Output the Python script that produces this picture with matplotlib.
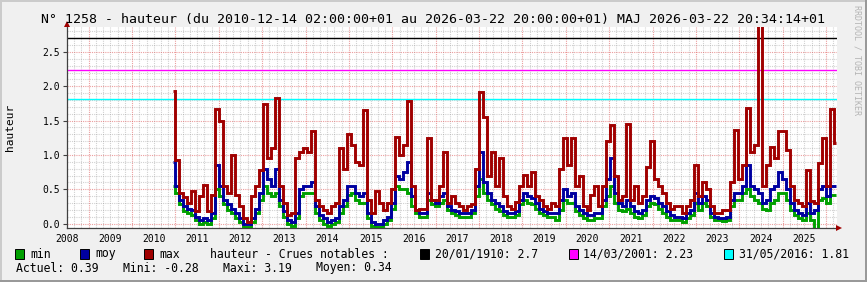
import numpy as np
import matplotlib
matplotlib.use("Agg")
import matplotlib.pyplot as plt
from matplotlib.patches import Rectangle, Polygon

plt.rcParams['font.family'] = ['DejaVu Sans Mono']

# ---------------- data ----------------
T0 = 2010.95          # first sample (2010-12-14)
STEP = 0.09206        # years between samples

max_vals = [
    1.93, 0.92, 0.45, 0.39, 0.30, 0.48, 0.18, 0.40, 0.56, 0.18, 0.42, 1.67, 1.50, 0.55, 0.45, 1.00,
    0.42, 0.25, 0.08, 0.02, 0.40, 0.55, 0.78, 1.74, 0.95, 1.10, 1.83, 0.55, 0.30, 0.12, 0.15, 0.95,
    1.05, 1.10, 1.05, 1.35, 0.35, 0.25, 0.20, 0.15, 0.25, 0.30, 1.10, 0.80, 1.30, 1.15, 0.90, 0.85,
    1.65, 0.35, 0.15, 0.48, 0.30, 0.20, 0.30, 0.50, 1.26, 1.00, 1.15, 1.79, 0.55, 0.20, 0.22, 0.22,
    1.25, 0.35, 0.35, 0.55, 1.05, 0.30, 0.40, 0.30, 0.25, 0.20, 0.25, 0.28, 0.80, 1.91, 1.55, 0.70,
    1.04, 0.55, 0.95, 0.40, 0.25, 0.22, 0.32, 0.55, 0.71, 0.55, 0.75, 0.40, 0.35, 0.25, 0.22, 0.30,
    0.25, 0.80, 1.25, 0.85, 1.25, 0.55, 0.70, 0.25, 0.20, 0.42, 0.55, 0.25, 0.55, 1.21, 1.43, 0.70,
    0.35, 0.40, 1.45, 0.35, 0.55, 0.30, 0.40, 0.83, 1.20, 0.65, 0.55, 0.45, 0.30, 0.22, 0.25, 0.25,
    0.15, 0.25, 0.35, 0.85, 0.40, 0.61, 0.50, 0.25, 0.15, 0.15, 0.20, 0.20, 0.60, 1.36, 0.65, 0.85,
    1.69, 1.05, 1.14, 3.19, 0.55, 0.85, 1.11, 0.95, 1.35, 1.35, 1.07, 0.55, 0.35, 0.30, 0.25, 0.78,
    0.33, 0.30, 0.88, 1.25, 0.55, 1.67, 1.17,
]
moy_vals = [
    0.90, 0.55, 0.35, 0.25, 0.22, 0.20, 0.10, 0.05, 0.08, 0.05, 0.15, 0.85, 0.55, 0.35, 0.28, 0.22,
    0.15, 0.08, 0.00, 0.00, 0.08, 0.22, 0.45, 0.80, 0.65, 0.55, 0.80, 0.35, 0.18, 0.05, 0.02, 0.15,
    0.50, 0.55, 0.55, 0.60, 0.25, 0.12, 0.08, 0.02, 0.05, 0.08, 0.25, 0.35, 0.55, 0.55, 0.45, 0.40,
    0.45, 0.15, 0.02, 0.00, 0.00, 0.05, 0.10, 0.30, 0.70, 0.65, 0.75, 0.90, 0.40, 0.20, 0.15, 0.15,
    0.45, 0.35, 0.30, 0.40, 0.45, 0.25, 0.20, 0.18, 0.15, 0.15, 0.15, 0.20, 0.55, 1.05, 0.60, 0.45,
    0.35, 0.30, 0.25, 0.18, 0.15, 0.15, 0.18, 0.35, 0.45, 0.40, 0.38, 0.30, 0.22, 0.18, 0.15, 0.15,
    0.15, 0.35, 0.50, 0.40, 0.45, 0.25, 0.20, 0.15, 0.12, 0.12, 0.15, 0.15, 0.35, 0.65, 0.95, 0.45,
    0.30, 0.25, 0.35, 0.25, 0.18, 0.15, 0.20, 0.35, 0.40, 0.38, 0.30, 0.25, 0.18, 0.12, 0.10, 0.10,
    0.08, 0.15, 0.20, 0.45, 0.30, 0.40, 0.35, 0.15, 0.10, 0.08, 0.08, 0.10, 0.35, 0.45, 0.45, 0.55,
    0.85, 0.55, 0.50, 0.45, 0.30, 0.35, 0.50, 0.55, 0.75, 0.65, 0.50, 0.30, 0.20, 0.15, 0.12, 0.30,
    0.15, 0.20, 0.50, 0.55, 0.40, 0.55, 0.55,
]
min_vals = [
    0.55, 0.45, 0.28, 0.18, 0.15, 0.12, 0.05, 0.00, 0.02, 0.00, 0.08, 0.50, 0.40, 0.28, 0.20, 0.15,
    0.08, 0.02, -0.05, -0.05, 0.02, 0.15, 0.35, 0.55, 0.45, 0.40, 0.45, 0.25, 0.10, 0.00, -0.03, 0.08,
    0.40, 0.45, 0.45, 0.45, 0.15, 0.05, 0.00, -0.03, 0.00, 0.02, 0.15, 0.25, 0.42, 0.45, 0.35, 0.30,
    0.30, 0.08, -0.04, -0.05, -0.05, 0.00, 0.05, 0.22, 0.55, 0.50, 0.50, 0.45, 0.25, 0.15, 0.10, 0.10,
    0.35, 0.28, 0.25, 0.30, 0.35, 0.20, 0.15, 0.12, 0.10, 0.10, 0.10, 0.15, 0.40, 0.65, 0.45, 0.35,
    0.28, 0.22, 0.18, 0.12, 0.10, 0.10, 0.12, 0.28, 0.35, 0.30, 0.28, 0.22, 0.15, 0.12, 0.10, 0.10,
    0.05, 0.20, 0.35, 0.30, 0.30, 0.18, 0.12, 0.08, 0.05, 0.05, 0.08, 0.08, 0.25, 0.40, 0.55, 0.30,
    0.20, 0.18, 0.22, 0.15, 0.10, 0.08, 0.12, 0.25, 0.30, 0.28, 0.22, 0.15, 0.10, 0.06, 0.05, 0.05,
    0.02, 0.08, 0.12, 0.30, 0.20, 0.30, 0.25, 0.10, 0.05, 0.05, 0.04, 0.05, 0.25, 0.35, 0.35, 0.45,
    0.50, 0.40, 0.35, 0.30, 0.22, 0.20, 0.30, 0.35, 0.45, 0.45, 0.35, 0.20, 0.12, 0.08, 0.05, 0.15,
    0.05, -0.28, 0.35, 0.38, 0.30, 0.42, 0.42,
]

year_labels = list(range(2008, 2026))
y_ticks = [0.0, 0.5, 1.0, 1.5, 2.0, 2.5]

crue_dates = ["20/01/1910", "14/03/2001", "31/05/2016"]
crue_values = [2.7, 2.23, 1.81]
crue_colors = ["#000000", "#FF00FF", "#00FFFF"]

series_names = ["min", "moy", "max"]
series_colors = ["#00A000", "#0000A0", "#A00000"]

stats_labels = ["Actuel", "Mini", "Maxi", "Moyen"]
stats_values = [0.39, -0.28, 3.19, 0.34]

title = ("N\u00b0 1258 - hauteur (du 2010-12-14 02:00:00+01 au 2026-03-22 20:00:00+01) "
         "MAJ 2026-03-22 20:34:14+01")

# ---------------- figure ----------------
W, H = 867, 282
fig = plt.figure(figsize=(W / 100, H / 100), dpi=100, facecolor='#F0F0F0')

def fx(px):
    return px / W

def fy(py):
    return 1 - py / H

X0, X1, YT, YB = 67, 837, 27, 228
ax = fig.add_axes([fx(X0), fy(YB), (X1 - X0) / W, (YB - YT) / H])
ax.set_facecolor('white')
XMIN, XMAX = 2008.533, 2026.254
YMIN, YMAX = -0.063, 2.863
ax.set_xlim(XMIN, XMAX)
ax.set_ylim(YMIN, YMAX)

# grid
dash = (0, (1, 1))
for k in np.arange(np.ceil(XMIN * 6), XMAX * 6):
    xv = k / 6
    if abs(xv - round(xv)) < 1e-6:
        ax.axvline(xv, color='#DE5151', alpha=0.55, lw=0.8, ls=dash, zorder=1)
    else:
        ax.axvline(xv, color='#8F8F8F', alpha=0.4, lw=0.8, ls=dash, zorder=0.9)
for k in range(0, 29):
    yv = k / 10
    if k % 5 == 0:
        ax.axhline(yv, color='#DE5151', alpha=0.55, lw=0.8, ls=dash, zorder=1)
    else:
        ax.axhline(yv, color='#8F8F8F', alpha=0.4, lw=0.8, ls=dash, zorder=0.9)

# notable floods
for v, c in zip(crue_values, crue_colors):
    ax.axhline(v, color=c, lw=1.0, zorder=2)

# series
t = T0 + STEP * np.arange(len(max_vals))
for vals, c, z in zip([min_vals, moy_vals, max_vals], series_colors, [3, 4, 5]):
    ax.step(t, vals, where='mid', color=c, lw=2.1, zorder=z,
            solid_joinstyle='miter', solid_capstyle='butt')

# axes styling
for s in ['top', 'right']:
    ax.spines[s].set_visible(False)
for s in ['left', 'bottom']:
    ax.spines[s].set_color('#404040')
    ax.spines[s].set_linewidth(0.9)
ax.set_xticks([y + 0.5 for y in year_labels])
ax.set_xticklabels([str(y) for y in year_labels], fontsize=7)
ax.tick_params(axis='x', length=0, pad=4)
ax.set_yticks(y_ticks)
ax.set_yticklabels([f"{v:.1f}" for v in y_ticks], fontsize=7)
ax.tick_params(axis='y', length=3, width=0.8, color='#404040', pad=2)

# arrows
fig.add_artist(Polygon([[fx(64), fy(27)], [fx(70), fy(27)], [fx(67), fy(21)]],
                       closed=True, transform=fig.transFigure, color='#A00000', lw=0))
fig.add_artist(Polygon([[fx(836), fy(225)], [fx(836), fy(231)], [fx(842), fy(228)]],
                       closed=True, transform=fig.transFigure, color='#A00000', lw=0))

# title & labels
fig.text(fx(41), fy(19), title, fontsize=9.5, ha='left', va='center')
fig.text(fx(10), fy(127), "hauteur", fontsize=8, rotation=90, ha='center', va='center')
fig.text(fx(857), fy(60), "RRDTOOL / TOBI OETIKER", fontsize=6, rotation=270,
         color='#B4B4B4', ha='center', va='center')

# legend row 1
def square(x, color):
    fig.add_artist(Rectangle((fx(x), fy(259)), 9 / W, 10 / H, transform=fig.transFigure,
                             facecolor=color, edgecolor='black', lw=0.7))

FS = 8.3
for name, c, xs, xt in zip(series_names, series_colors, [15, 80, 144], [30, 95, 159]):
    square(xs, c)
    fig.text(fx(xt), fy(254), name, fontsize=FS, ha='left', va='center')
fig.text(fx(210), fy(254), "hauteur - Crues notables :", fontsize=FS, ha='left', va='center')
for d, v, c, xs, xt in zip(crue_dates, crue_values, crue_colors, [420, 569, 724], [435, 583, 739]):
    square(xs, c)
    fig.text(fx(xt), fy(254), f"{d}: {v}", fontsize=FS, ha='left', va='center')

# legend row 2
for lab, v, xt in zip(stats_labels, stats_values, [16, 123, 223, 316]):
    fig.text(fx(xt), fy(268), f"{lab}: {v:.2f}", fontsize=FS, ha='left', va='center')

# 3D frame
fig.add_artist(Rectangle((0, fy(2)), 1, 2 / H, transform=fig.transFigure, color='#CBCBCB', lw=0))
fig.add_artist(Rectangle((0, 0), 2 / W, 1, transform=fig.transFigure, color='#CBCBCB', lw=0))
fig.add_artist(Rectangle((0, 0), 1, 2 / H, transform=fig.transFigure, color='#999999', lw=0))
fig.add_artist(Rectangle((1 - 2 / W, 0), 2 / W, 1, transform=fig.transFigure, color='#999999', lw=0))

fig.savefig("out.png", dpi=100, facecolor=fig.get_facecolor())
